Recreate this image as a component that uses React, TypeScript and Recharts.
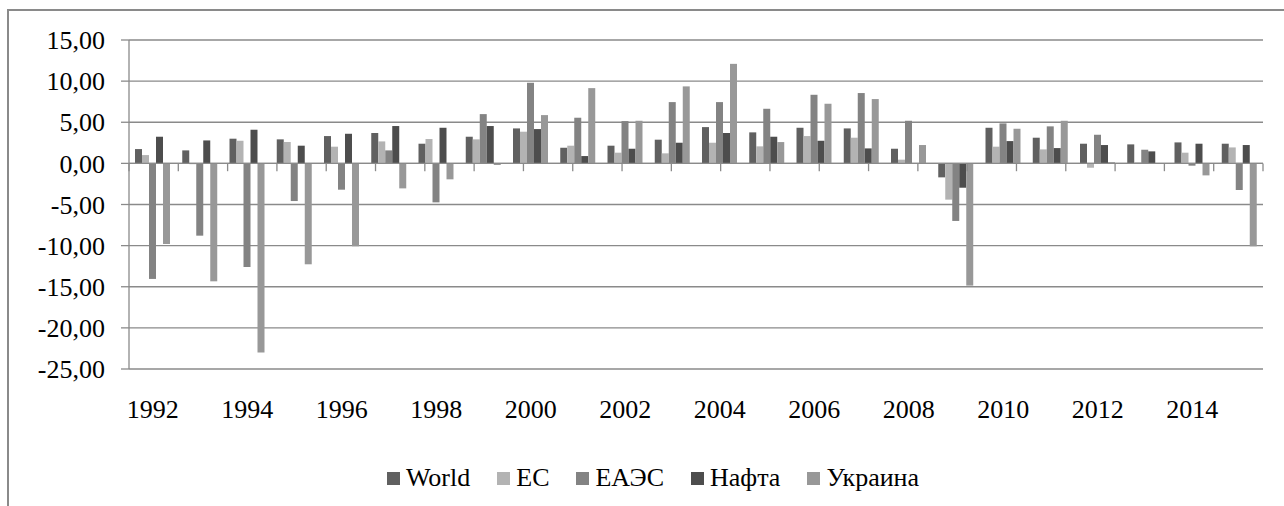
import React from "react";
import {
  BarChart,
  Bar,
  XAxis,
  YAxis,
  CartesianGrid,
  Legend,
  ReferenceLine,
} from "recharts";

const years = [
  "1992", "1993", "1994", "1995", "1996", "1997", "1998", "1999",
  "2000", "2001", "2002", "2003", "2004", "2005", "2006", "2007",
  "2008", "2009", "2010", "2011", "2012", "2013", "2014", "2015",
];

const world = [
  1.74, 1.58, 3.0, 2.92, 3.32, 3.69, 2.39, 3.24, 4.25, 1.9, 2.15, 2.88,
  4.41, 3.77, 4.33, 4.25, 1.78, -1.7, 4.33, 3.12, 2.39, 2.31, 2.55, 2.39,
];
const ec = [
  1.01, -0.1, 2.75, 2.6, 2.03, 2.67, 2.96, 2.92, 3.85, 2.15, 1.3, 1.22,
  2.51, 2.07, 3.32, 3.12, 0.45, -4.41, 2.03, 1.7, -0.53, 0.12, 1.3, 1.94,
];
const eaes = [
  -14.05, -8.79, -12.6, -4.58, -3.2, 1.58, -4.74, 5.99, 9.8, 5.55, 5.14, 7.45,
  7.45, 6.64, 8.34, 8.55, 5.18, -7.0, 4.86, 4.5, 3.48, 1.66, -0.28, -3.24,
];
const nafta = [
  3.24, 2.79, 4.09, 2.15, 3.6, 4.54, 4.33, 4.54, 4.17, 0.89, 1.78, 2.51,
  3.69, 3.24, 2.75, 1.82, 0.0, -2.96, 2.71, 1.86, 2.23, 1.46, 2.39, 2.23,
];
const ukraine = [
  -9.8, -14.34, -23.0, -12.27, -10.08, -3.04, -1.94, -0.2, 5.87, 9.15, 5.18, 9.36,
  12.1, 2.59, 7.25, 7.82, 2.23, -14.86, 4.21, 5.18, 0.15, 0.0, -1.46, -10.08,
];

const yTicks = [-25, -20, -15, -10, -5, 0, 5, 10, 15];

const series = [
  { key: "world", name: "World", color: "#606060" },
  { key: "ec", name: "EC", color: "#b3b3b3" },
  { key: "eaes", name: "ЕАЭС", color: "#838383" },
  { key: "nafta", name: "Нафта", color: "#4d4d4d" },
  { key: "ukraine", name: "Украина", color: "#989898" },
];

const data = years.map((year, i) => ({
  year,
  world: world[i],
  ec: ec[i],
  eaes: eaes[i],
  nafta: nafta[i],
  ukraine: ukraine[i],
}));

// category boundaries, used for the little tick marks on the zero line
const edges = years.map((_, i) => i).concat(years.length);

const FONT = "'Liberation Serif', 'DejaVu Serif', 'Noto Serif', serif";
const LINE = "#8a8a8a";

const fmt = (v: number) => v.toFixed(2).replace(".", ",");

function LegendContent() {
  return (
    <div
      style={{
        height: 30,
        display: "flex",
        justifyContent: "center",
        alignItems: "center",
        paddingLeft: 70,
        fontFamily: FONT,
        fontSize: 26,
        color: "#000",
      }}
    >
      {series.map((s) => (
        <div
          key={s.key}
          style={{ display: "flex", alignItems: "center", marginRight: 27 }}
        >
          <span
            style={{
              width: 13,
              height: 13,
              background: s.color,
              marginRight: 6,
              display: "inline-block",
            }}
          />
          <span>{s.name}</span>
        </div>
      ))}
    </div>
  );
}

export default function App() {
  return (
    <div
      style={{
        position: "fixed",
        left: 0,
        top: 0,
        width: 1284,
        height: 506,
        overflow: "hidden",
        background: "#fff",
        fontFamily: FONT,
      }}
    >
      <div
        style={{
          position: "absolute",
          left: 7,
          top: 9,
          width: 1400,
          height: 600,
          border: `2px solid ${LINE}`,
        }}
      />
      <BarChart
        width={1284}
        height={506}
        data={data}
        margin={{ top: 40, right: 21, bottom: 13, left: 0 }}
        barCategoryGap={6}
        barGap={0}
        style={{ position: "absolute", left: 0, top: 0, fontFamily: FONT }}
      >
        <CartesianGrid vertical={false} stroke={LINE} strokeWidth={1.3} />
        <XAxis
          dataKey="year"
          interval={1}
          height={94}
          axisLine={false}
          tickLine={false}
          tickSize={0}
          tickMargin={31}
          tick={{ fontSize: 26, fontFamily: FONT, fill: "#000" }}
        />
        <XAxis
          xAxisId="edges"
          type="number"
          domain={[0, years.length]}
          hide
        />
        <YAxis
          domain={[-25, 15]}
          ticks={yTicks}
          width={129}
          tickFormatter={fmt}
          axisLine={{ stroke: LINE, strokeWidth: 1.3 }}
          tickLine={{ stroke: LINE, strokeWidth: 1.3 }}
          tickSize={8}
          tickMargin={16}
          tick={{ fontSize: 26, fontFamily: FONT, fill: "#000" }}
        />
        {series.map((s) => (
          <Bar
            key={s.key}
            dataKey={s.key}
            name={s.name}
            fill={s.color}
            isAnimationActive={false}
          />
        ))}
        <ReferenceLine y={0} stroke={LINE} strokeWidth={1.3} />
        {edges.map((e) => (
          <ReferenceLine
            key={e}
            xAxisId="edges"
            segment={[
              { x: e, y: 0 },
              { x: e, y: -0.95 },
            ]}
            stroke={LINE}
            strokeWidth={1.3}
          />
        ))}
        <Legend
          verticalAlign="bottom"
          align="center"
          content={() => <LegendContent />}
        />
      </BarChart>
    </div>
  );
}
